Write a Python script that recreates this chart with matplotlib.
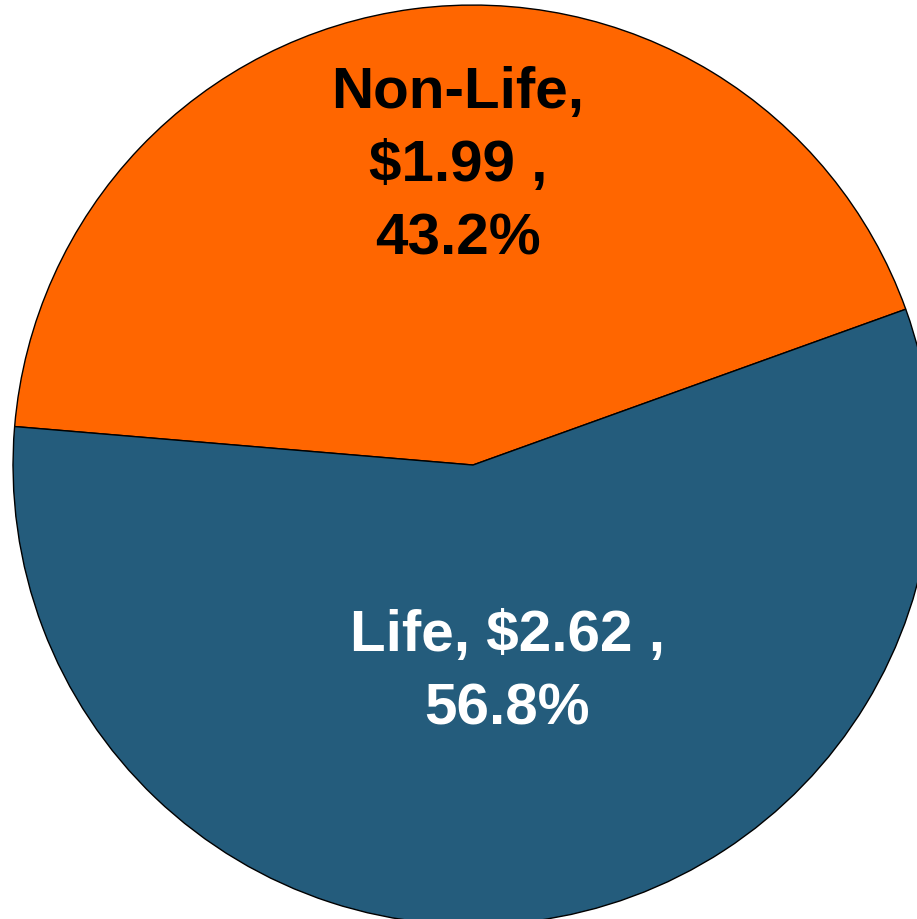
import matplotlib
matplotlib.use("Agg")
import matplotlib.pyplot as plt

categories = ["Non-Life", "Life"]
values = [1.99, 2.62]
colors = ["#FF6600", "#245C7C"]
text_colors = ["black", "white"]

total = sum(values)
pcts = [v / total * 100 for v in values]
labels = [
    f"{categories[0]},\n${values[0]:.2f} ,\n{pcts[0]:.1f}%",
    f"{categories[1]}, ${values[1]:.2f} ,\n{pcts[1]:.1f}%",
]
label_pos = [(-0.033, 0.650), (0.074, -0.452)]

plt.rcParams['font.family'] = ['Liberation Sans', 'DejaVu Sans']

fig = plt.figure(figsize=(9.17, 9.19), dpi=100)
ax = fig.add_axes([0, 0, 1, 1])
ax.pie(values, colors=colors, startangle=19.8, counterclock=True,
       radius=1.0, wedgeprops=dict(edgecolor="black", linewidth=1.0))
ax.set_xlim(-1.028, 0.965)
ax.set_ylim(-0.987, 1.011)
ax.set_aspect('equal')
ax.axis('off')

for lab, (x, y), c in zip(labels, label_pos, text_colors):
    ax.text(x, y, lab, ha='center', va='center', fontsize=42,
            fontweight='bold', color=c, linespacing=1.46)

fig.savefig("out.png", dpi=100)
